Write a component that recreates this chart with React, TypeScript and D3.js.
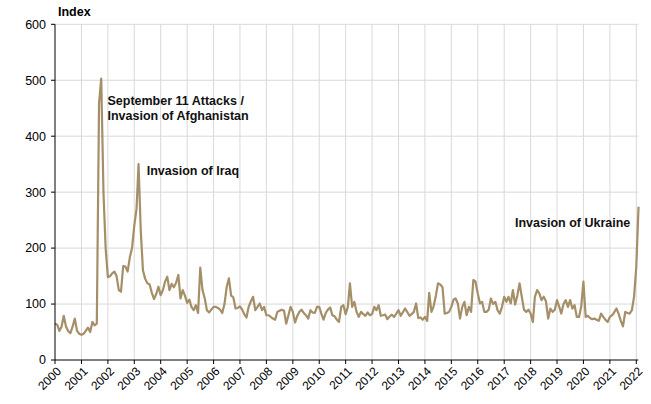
import React from "react";
import * as d3 from "d3";

// Monthly index, Jan 2000 – Feb 2022
const values2000to2005: number[] = [
  // 2000
  65, 63, 52, 60, 79, 60, 52, 48, 60, 74, 52, 47,
  // 2001
  45, 47, 52, 58, 50, 68, 62, 65, 459, 503, 300, 200,
  // 2002
  148, 150, 155, 158, 150, 125, 122, 168, 167, 158, 184, 200,
  // 2003
  240, 270, 350, 230, 160, 145, 137, 135, 120, 109, 118, 131,
  // 2004
  116, 125, 140, 149, 125, 136, 130, 138, 152, 110, 125, 115,
  // 2005
  102, 108, 95, 89, 98, 84, 165, 125, 110, 89, 85, 90,
];
const values2006to2011: number[] = [
  // 2006
  95, 95, 93, 90, 84, 100, 130, 146, 115, 112, 92, 93,
  // 2007
  96, 90, 82, 76, 95, 105, 113, 89, 95, 101, 89, 95,
  // 2008
  80, 80, 77, 74, 72, 86, 88, 90, 88, 65, 80, 95,
  // 2009
  86, 67, 78, 86, 90, 84, 80, 74, 89, 85, 84, 95,
  // 2010
  95, 82, 72, 84, 90, 94, 80, 78, 72, 68, 95, 98,
  // 2011
  82, 95, 137, 95, 104, 86, 77, 86, 82, 79, 85, 80,
];
const values2012to2017: number[] = [
  // 2012
  82, 95, 89, 98, 79, 80, 81, 73, 78, 81, 77, 83,
  // 2013
  89, 79, 85, 92, 86, 79, 82, 86, 101, 75, 76, 72,
  // 2014
  77, 70, 120, 86, 96, 115, 137, 135, 130, 83, 84, 86,
  // 2015
  95, 108, 110, 101, 74, 95, 104, 80, 95, 86, 143, 140,
  // 2016
  119, 101, 104, 86, 86, 90, 110, 100, 104, 89, 83, 95,
  // 2017
  113, 104, 113, 101, 125, 99, 115, 137, 113, 90, 86, 90,
];
const values2018to2022: number[] = [
  // 2018
  83, 68, 113, 125, 119, 107, 113, 105, 74, 92, 86, 90,
  // 2019
  107, 95, 83, 100, 107, 95, 107, 92, 98, 77, 77, 95,
  // 2020
  140, 77, 79, 75, 73, 74, 72, 70, 83, 77, 72, 68,
  // 2021
  77, 80, 85, 92, 83, 70, 60, 86, 84, 83, 89, 113,
  // 2022
  167, 274,
];

const yTicks: number[] = [0, 100, 200, 300, 400, 500, 600];
const yearTicks: number[] = d3.range(2000, 2023);

const annotationLines: string[][] = [
  ["September 11 Attacks /", "Invasion of Afghanistan"],
  ["Invasion of Iraq"],
  ["Invasion of Ukraine"],
];
// anchor [year, month] for annotation placement
const annotationDates: [number, number][] = [
  [2001, 10],
  [2003, 5],
  [2022, 0],
];

const W = 651;
const H = 404;
const FONT = "'Liberation Sans', Arial, Helvetica, sans-serif";
const LINE_COLOR = "#a48f68";

export default function App() {
  const all = [...values2000to2005, ...values2006to2011, ...values2012to2017, ...values2018to2022];
  const data = all.map((v, i) => ({ date: new Date(2000, i, 1), value: v }));

  const x = d3
    .scaleTime()
    .domain([new Date(2000, 0, 1), new Date(2022, 0, 1)])
    .range([55, 636.3]);
  const y = d3.scaleLinear().domain([0, 600]).range([360, 24.3]);

  const line = d3
    .line<{ date: Date; value: number }>()
    .x((d) => x(d.date))
    .y((d) => y(d.value));

  const plotRight = x(new Date(2022, 0, 1)) + 2;

  const annPos = [
    { x: x(new Date(annotationDates[0][0], annotationDates[0][1], 1)) + 4, y: y(455), anchor: "start" },
    { x: x(new Date(annotationDates[1][0], annotationDates[1][1], 1)) + 1.5, y: y(330), anchor: "start" },
    { x: x(new Date(annotationDates[2][0], annotationDates[2][1], 1)) - 6, y: y(237), anchor: "end" },
  ];

  return (
    <svg
      width={W}
      height={H}
      style={{ position: "absolute", left: 0, top: 0, background: "#fff" }}
      fontFamily={FONT}
    >
      <rect width={W} height={H} fill="#fff" />
      {yTicks.slice(1).map((t) => (
        <line key={"gy" + t} x1={55} x2={plotRight} y1={y(t)} y2={y(t)} stroke="#d9d9d9" strokeWidth={1} />
      ))}
      {yearTicks.slice(1).map((yr) => (
        <line
          key={"gx" + yr}
          x1={x(new Date(yr, 0, 1))}
          x2={x(new Date(yr, 0, 1))}
          y1={y(600)}
          y2={y(0)}
          stroke="#d9d9d9"
          strokeWidth={1}
        />
      ))}

      <path d={line(data) || ""} fill="none" stroke={LINE_COLOR} strokeWidth={2.2} strokeLinejoin="round" />

      <line x1={55} x2={55} y1={y(600)} y2={y(0)} stroke="#000" strokeWidth={1} />
      <line x1={55} x2={plotRight} y1={y(0)} y2={y(0)} stroke="#000" strokeWidth={1} />
      {yTicks.map((t) => (
        <g key={"ty" + t}>
          <line x1={51} x2={55} y1={y(t)} y2={y(t)} stroke="#000" />
          <text x={46} y={y(t)} dy="0.35em" textAnchor="end" fontSize={12.5} fill="#000">
            {t}
          </text>
        </g>
      ))}
      {yearTicks.map((yr) => {
        const xx = x(new Date(yr, 0, 1));
        return (
          <g key={"tx" + yr}>
            <line x1={xx} x2={xx} y1={y(0)} y2={y(0) + 4} stroke="#000" />
            <text
              transform={`translate(${xx + 4},${y(0) + 9}) rotate(-45)`}
              textAnchor="end"
              dy="0.35em"
              fontSize={12}
              fill="#000"
            >
              {yr}
            </text>
          </g>
        );
      })}

      <text x={58} y={16} fontSize={12.5} fontWeight="bold" fill="#000">
        Index
      </text>

      {annotationLines.map((lines, i) => (
        <text
          key={"ann" + i}
          x={annPos[i].x}
          y={annPos[i].y}
          textAnchor={annPos[i].anchor as any}
          fontSize={12.5}
          fontWeight="bold"
          fill="#111"
        >
          {lines.map((l, j) => (
            <tspan key={j} x={annPos[i].x} dy={j === 0 ? 0 : 14.5}>
              {l}
            </tspan>
          ))}
        </text>
      ))}
    </svg>
  );
}
